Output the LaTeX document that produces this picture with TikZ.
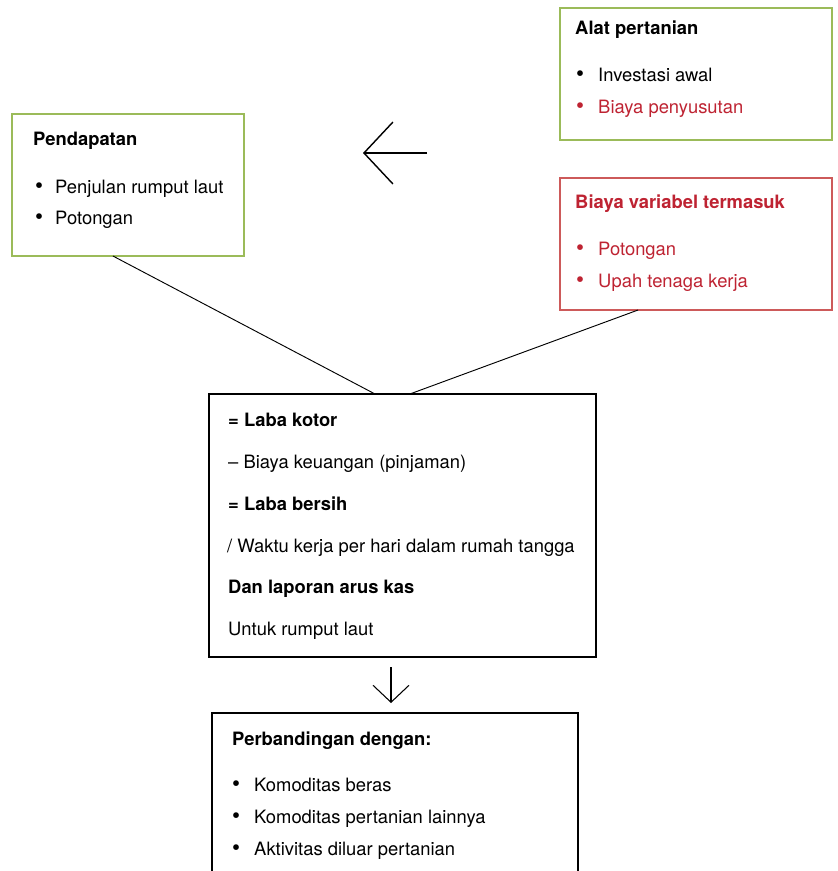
\documentclass[tikz,border=0pt]{standalone}
\usepackage{fontspec}
\setmainfont{TeX Gyre Heros}
\usepackage{xcolor}
\usepackage{tikz}
\usetikzlibrary{arrows.meta,calc}
\definecolor{leafgreen}{RGB}{155,187,89}
\definecolor{costred}{RGB}{205,90,90}
\definecolor{costtext}{RGB}{190,35,50}

\begin{document}
\begin{tikzpicture}[x=0.03cm,y=-0.03cm,
    font=\fontsize{15.7}{19}\selectfont,
    box/.style={draw,line width=1pt,inner sep=0,outer sep=0,anchor=north west},
    title/.style={anchor=base west,inner sep=0,font=\fontsize{15.7}{19}\selectfont\bfseries},
    item/.style={anchor=base west,inner sep=0},
    dot/.style={anchor=base,inner sep=0,font=\fontsize{19.5}{20}\selectfont}]
    \clip (0,0) rectangle (837,871);
    % boxes
    \node[box,leafgreen,minimum width=8.16cm,minimum height=3.96cm] (alat) at (560,8) {};
    \node[box,costred,minimum width=8.16cm,minimum height=3.96cm] (variabel) at (560,178) {};
    \node[box,leafgreen,minimum width=6.96cm,minimum height=4.26cm] (pend) at (12,114) {};
    \node[box,black,minimum width=11.61cm,minimum height=7.89cm] (laba) at (209,394) {};
    \node[box,black,minimum width=10.98cm,minimum height=5.6cm] (banding) at (212,713) {};

    \node[title] (alatT) at (575,35) {Alat pertanian};
    \node[dot] (alatD1) at (580,82) {\textbullet};
    \node[item] (alat1) at (598,82) {Investasi awal};
    \node[dot,costtext] (alatD2) at (580,113) {\textbullet};
    \node[item,costtext] (alat2) at (598,113) {Biaya penyusutan};

    \node[title,costtext] (variabelT) at (575,208) {Biaya variabel termasuk};
    \node[dot,costtext] (variabelD1) at (580,255) {\textbullet};
    \node[item,costtext] (variabel1) at (598,255) {Potongan};
    \node[dot,costtext] (variabelD2) at (580,287) {\textbullet};
    \node[item,costtext] (variabel2) at (598,287) {Upah tenaga kerja};

    \node[title] (pendT) at (33,145) {Pendapatan};
    \node[dot] (pendD1) at (39,193) {\textbullet};
    \node[item] (pend1) at (55,193) {Penjulan rumput laut};
    \node[dot] (pendD2) at (39,224) {\textbullet};
    \node[item] (pend2) at (55,224) {Potongan};

    \node[title] (laba1) at (228,426) {= Laba kotor};
    \node[item] (laba2) at (228,468) {– Biaya keuangan (pinjaman)};
    \node[title] (laba3) at (228,510) {= Laba bersih};
    \node[item] (laba4) at (227,552) {/ Waktu kerja per hari dalam rumah tangga};
    \node[title] (laba5) at (228,593) {Dan laporan arus kas};
    \node[item] (laba6) at (228,635) {Untuk rumput laut};

    \node[title] (bandingT) at (232,745) {Perbandingan dengan:};
    \node[dot] (bandingD1) at (236,791) {\textbullet};
    \node[item] (banding1) at (254,791) {Komoditas beras};
    \node[dot] (bandingD2) at (236,823) {\textbullet};
    \node[item] (banding2) at (254,823) {Komoditas pertanian lainnya};
    \node[dot] (bandingD3) at (236,855) {\textbullet};
    \node[item] (banding3) at (254,855) {Aktivitas diluar pertanian};

    % connectors
    \draw[-,line width=0.8pt] ($(pend.south west)!0.435!(pend.south east)$) to ($(laba.north west)!0.429!(laba.north east)$);
    \draw[-,line width=0.8pt] ($(variabel.south west)!0.287!(variabel.south east)$) to ($(laba.north west)!0.519!(laba.north east)$);

    \coordinate (kiriA) at (427,153);
    \coordinate (kiriB) at (363,153);
    \draw[line width=1.2pt,-{Straight Barb[length=8.7mm,width=18.6mm]}] (kiriA) to (kiriB);
    \coordinate (bawahA) at (391,667);
    \coordinate (bawahB) at (391,703);
    \draw[line width=0.9pt,-{Straight Barb[length=5.1mm,width=10.8mm]}] (bawahA) to (bawahB);
\end{tikzpicture}
\end{document}
